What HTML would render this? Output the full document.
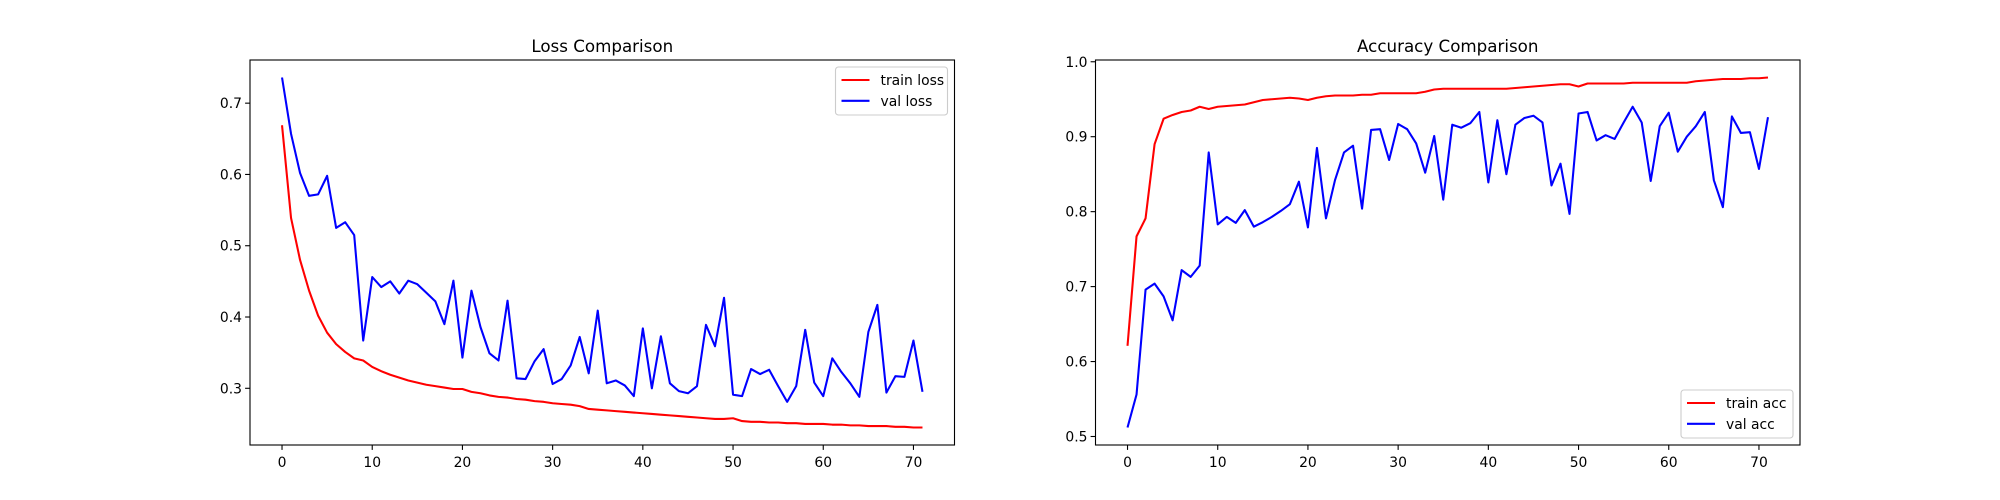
<!DOCTYPE html>
<html><head><meta charset="utf-8"><style>
body{margin:0;background:#fff;}
svg{display:block;font-family:"DejaVu Sans","Liberation Sans",sans-serif;}
</style></head><body>
<svg id="fig" width="2000" height="500" xmlns="http://www.w3.org/2000/svg">
<rect width="2000" height="500" fill="#fff"/>
</svg>
<script>
const epochs = Array.from({length:72},(_,i)=>i);
const trainLoss = [0.669,0.539,0.480,0.437,0.402,0.378,0.362,0.351,0.342,0.339,0.330,0.324,0.319,0.315,0.311,0.308,0.305,0.303,0.301,0.299,0.299,0.295,0.293,0.290,0.288,0.287,0.285,0.284,0.282,0.281,0.279,0.278,0.277,0.275,0.271,0.270,0.269,0.268,0.267,0.266,0.265,0.264,0.263,0.262,0.261,0.260,0.259,0.258,0.257,0.257,0.258,0.254,0.253,0.253,0.252,0.252,0.251,0.251,0.250,0.250,0.250,0.249,0.249,0.248,0.248,0.247,0.247,0.247,0.246,0.246,0.245,0.245];
const valLoss = [0.736,0.657,0.602,0.570,0.572,0.598,0.525,0.533,0.515,0.367,0.456,0.442,0.450,0.433,0.451,0.446,0.434,0.422,0.390,0.451,0.343,0.437,0.386,0.349,0.339,0.423,0.314,0.313,0.338,0.355,0.306,0.313,0.332,0.372,0.321,0.409,0.307,0.311,0.304,0.289,0.384,0.300,0.373,0.307,0.296,0.293,0.303,0.389,0.359,0.427,0.291,0.289,0.327,0.320,0.326,0.303,0.281,0.303,0.382,0.308,0.289,0.342,0.323,0.307,0.288,0.379,0.417,0.294,0.317,0.316,0.367,0.295];
const trainAcc = [0.621,0.767,0.791,0.890,0.924,0.929,0.933,0.935,0.940,0.937,0.940,0.941,0.942,0.943,0.946,0.949,0.950,0.951,0.952,0.951,0.949,0.952,0.954,0.955,0.955,0.955,0.956,0.956,0.958,0.958,0.958,0.958,0.958,0.960,0.963,0.964,0.964,0.964,0.964,0.964,0.964,0.964,0.964,0.965,0.966,0.967,0.968,0.969,0.970,0.970,0.967,0.971,0.971,0.971,0.971,0.971,0.972,0.972,0.972,0.972,0.972,0.972,0.972,0.974,0.975,0.976,0.977,0.977,0.977,0.978,0.978,0.979];
const valAcc = [0.512,0.556,0.696,0.704,0.687,0.655,0.722,0.713,0.728,0.879,0.783,0.793,0.785,0.802,0.780,0.786,0.793,0.801,0.810,0.840,0.779,0.885,0.791,0.842,0.879,0.888,0.804,0.909,0.910,0.869,0.917,0.910,0.891,0.852,0.901,0.816,0.916,0.912,0.918,0.933,0.839,0.922,0.850,0.916,0.925,0.928,0.919,0.835,0.864,0.797,0.931,0.933,0.895,0.902,0.897,0.919,0.940,0.919,0.841,0.914,0.932,0.880,0.900,0.914,0.933,0.842,0.806,0.927,0.905,0.906,0.857,0.926];
const xTicks = [0,10,20,30,40,50,60,70];
const lossTicks = [0.3,0.4,0.5,0.6,0.7];
const accTicks = [0.5,0.6,0.7,0.8,0.9,1.0];

const NS="http://www.w3.org/2000/svg";
const svg=document.getElementById('fig');
function mk(tag,attrs,parent){const e=document.createElementNS(NS,tag);for(const k in attrs)e.setAttribute(k,attrs[k]);(parent||svg).appendChild(e);return e;}
function range(arrs,m){let lo=Infinity,hi=-Infinity;arrs.forEach(a=>a.forEach(v=>{lo=Math.min(lo,v);hi=Math.max(hi,v);}));const d=(hi-lo)*m;return [lo-d,hi+d];}

function panel(name,left,title,s1,s2,yTicks,fmt,labels,legendPos){
  const top=60,bottom=445,right=left+704.5;
  const g=mk('g',{});
  
  
  const [x0,x1]=range([epochs],0.05);
  const [y0,y1]=range([s1,s2],0.05);
  const X=v=>left+(v-x0)/(x1-x0)*(right-left);
  const Y=v=>bottom-(v-y0)/(y1-y0)*(bottom-top);
  const t=mk('text',{x:(left+right)/2,y:52,'text-anchor':'middle','font-size':'16.7'},g);
  t.textContent=title;
  
  
  xTicks.forEach(v=>{
    mk('line',{x1:X(v),x2:X(v),y1:bottom,y2:bottom+4.9,stroke:'#000','stroke-width':1.1},g);
    const l=mk('text',{x:X(v),y:467,'text-anchor':'middle','font-size':'13.9'},g);
    l.textContent=v;
    
    
  });
  yTicks.forEach(v=>{
    mk('line',{x1:left-4.9,x2:left,y1:Y(v),y2:Y(v),stroke:'#000','stroke-width':1.1},g);
    const l=mk('text',{x:left-8,y:Y(v)+5,'text-anchor':'end','font-size':'13.9'},g);
    l.textContent=v.toFixed(1);
    
    
  });
  [[s1,'#ff0000',labels[0]],[s2,'#0000ff',labels[1]]].forEach(([s,c,lab])=>{
    const p=mk('polyline',{points:s.map((v,i)=>X(epochs[i]).toFixed(2)+','+Y(v).toFixed(2)).join(' '),fill:'none',stroke:c,'stroke-width':2.08,'stroke-linejoin':'round'},g);
    
    
  });
  mk('rect',{x:left,y:top,width:right-left,height:bottom-top,fill:'none',stroke:'#000','stroke-width':1.1},g);
  // legend
  const lw=112,lh=48;
  const lx=right-7-lw, ly= legendPos==='top'? top+7 : bottom-7-lh;
  const lg=mk('g',{},g);
  
  
  mk('rect',{x:lx,y:ly,width:lw,height:lh,rx:3,fill:'#fff','fill-opacity':0.8,stroke:'#ccc','stroke-width':1.1},lg);
  [['#ff0000',labels[0]],['#0000ff',labels[1]]].forEach(([c,lab],i)=>{
    const cy=ly+13+i*20.8;
    mk('line',{x1:lx+6,x2:lx+34,y1:cy,y2:cy,stroke:c,'stroke-width':2.08},lg);
    const tx=mk('text',{x:lx+45,y:cy+5,'font-size':'13.9'},lg);
    tx.textContent=lab;
    
    
  });
}
panel('loss',250,'Loss Comparison',trainLoss,valLoss,lossTicks,1,['train loss','val loss'],'top');
panel('accuracy',1095.5,'Accuracy Comparison',trainAcc,valAcc,accTicks,1,['train acc','val acc'],'bottom');
</script>
</body></html>
